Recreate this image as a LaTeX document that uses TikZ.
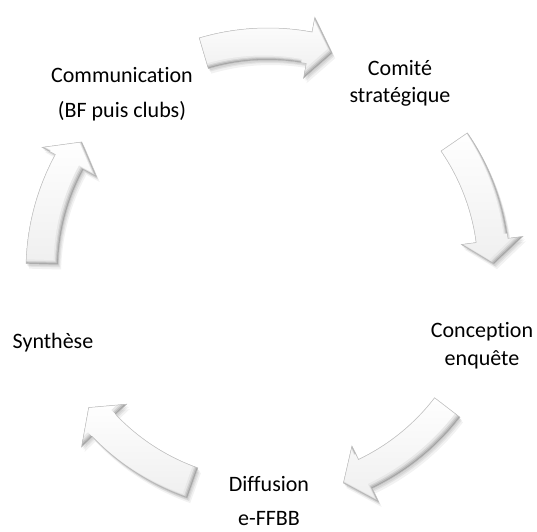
\documentclass[tikz,border=0pt]{standalone}
\usepackage{fontspec}
\setmainfont[Ligatures={NoCommon}]{Carlito}
\def\cyp#1{({#1+16.5}:242) arc[start angle={#1+16.5}, end angle={#1-10.5}, radius=242] -- ({#1-10.5}:257) -- ({#1-16.5}:226) -- ({#1-10.5}:195) -- ({#1-10.5}:210) arc[start angle={#1-10.5}, end angle={#1+16.5}, radius=210] -- cycle}
\newcommand{\cyarrow}[1]{%
  \fill[black,opacity=0.06,shift={(1,-2)}] \cyp{#1};
  \fill[black,opacity=0.06,shift={(2,-3)}] \cyp{#1};
  \fill[black,opacity=0.05,shift={(3,-5)}] \cyp{#1};
  \begin{scope}
    \clip \cyp{#1};
    \fill[gray!72] (-300,-300) rectangle (300,300);
    \fill[gray!52,shift={(-1,1)}] \cyp{#1};
    \fill[gray!34,shift={(-2,2)}] \cyp{#1};
    \fill[gray!18,shift={(-3,3)}] \cyp{#1};
    \shade[top color=white,bottom color=gray!12,shift={(-4.5,4.5)}] \cyp{#1};
  \end{scope}
  \draw[gray!50,line width=0.5pt] \cyp{#1};
}
\tikzset{lbl/.style={anchor=base,inner sep=0pt,font=\fontsize{22bp}{27bp}\selectfont,text=black}}
\begin{document}
\begin{tikzpicture}[x=1bp,y=1bp]
\fill[white] (0,0) rectangle (537,532);
\useasboundingbox (0,0) rectangle (537,532);
\begin{scope}[shift={(268,262)}]
  \cyarrow{90}
  \cyarrow{18}
  \cyarrow{-54}
  \cyarrow{-126}
  \cyarrow{162}
\end{scope}
\node[lbl] (comm1) at (122,449) {Communication};
\node[lbl] (comm2) at (122,414) {(BF puis clubs)};
\node[lbl] (com1) at (400,456) {Comité};
\node[lbl] (com2) at (400,429) {stratégique};
\node[lbl] (con1) at (482,194) {Conception};
\node[lbl] (con2) at (482,166) {enquête};
\node[lbl] (syn) at (53,183) {Synthèse};
\node[lbl] (dif1) at (269,40) {Diffusion};
\node[lbl] (dif2) at (269,6) {e-FFBB};
\end{tikzpicture}
\end{document}
